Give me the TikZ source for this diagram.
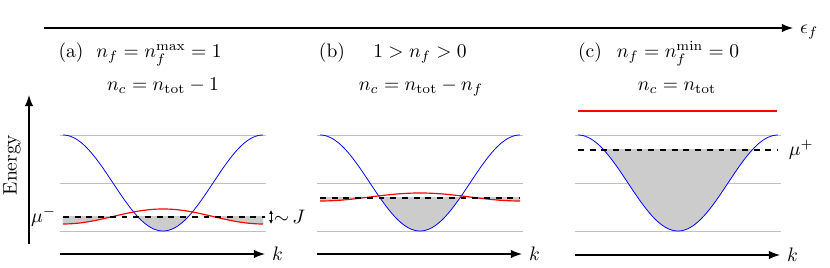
\documentclass[tikz,border=0pt]{standalone}
\usepackage{amsmath}
\usepackage{tikz}
\usetikzlibrary{arrows.meta, positioning, calc}

\begin{document}
\begin{tikzpicture}[
      x=0.018cm, y=0.018cm, >=Latex,
      axis/.style={->, semithick},
      cband/.style={blue, thin},
      fband/.style={red, semithick},
      level/.style={black!25, thin},
      chem/.style={dashed, semithick},
      occ/.style={fill=black!20},
      lab/.style={anchor=base, inner sep=0pt}
    ]
      \useasboundingbox (0,0) rectangle (830,268);

      % epsilon_f axis and energy axis
      \coordinate (ef0) at (44,240);
      \coordinate (ef1) at (793,240);
      \draw[axis] (ef0) -- (ef1) node[right, yshift=-2pt] (eflab) {$\epsilon_f$};
      \coordinate (en0) at (29,24);
      \coordinate (en1) at (29,173);
      \draw[axis] (en0) -- (en1);
      \node[rotate=90] (enlab) at (12,103) {Energy};

      % labels
      \node[lab] (labA) at (71,210)  {(a)};
      \node[lab] (nfA)  at (159,210) {$n_f = n_f^{\mathrm{max}} = 1$};
      \node[lab] (ncA)  at (163,177) {$n_c = n_{\mathrm{tot}} - 1$};
      \node[lab] (labB) at (332,210) {(b)};
      \node[lab] (nfB)  at (420,210) {$1 > n_f > 0$};
      \node[lab] (ncB)  at (421,177) {$n_c = n_{\mathrm{tot}} - n_f$};
      \node[lab] (labC) at (590,210) {(c)};
      \node[lab] (nfC)  at (678,210) {$n_f = n_f^{\mathrm{min}} = 0$};
      \node[lab] (ncC)  at (677,177) {$n_c = n_{\mathrm{tot}}$};

      % (a) f level filled
      \begin{scope}[shift={(63,0)}]
        \foreach \lev in {133,85,37}
          \draw[level] (-3,\lev) -- (203,\lev);
        \begin{scope}
          \clip (0,0) rectangle (200,51);
          \fill[occ] plot[domain=0:200, samples=80] (\x,{51.5-7.5*cos(1.8*\x)}) -- (200,140) -- (0,140) -- cycle;
          \fill[occ] plot[domain=0:200, samples=80] (\x,{85+48*cos(1.8*\x)}) -- (200,140) -- (0,140) -- cycle;
        \end{scope}
        \draw[cband] plot[domain=0:200, samples=80] (\x,{85+48*cos(1.8*\x)});
        \draw[fband] plot[domain=0:200, samples=80] (\x,{51.5-7.5*cos(1.8*\x)});
        \coordinate (muA0) at (0,51);
        \coordinate (muA1) at (202,51);
        \draw[chem] (muA0) -- (muA1);
        \node[left=0pt of muA0] (muAlab) {$\mu^-$};
        \coordinate (jtop) at (208,58);
        \coordinate (jbot) at (208,44);
        \draw[<->, >={Latex[length=2pt, width=2pt]}, thin] (jtop) -- (jbot);
        \node[right=-2pt of $(jtop)!0.5!(jbot)$] (jlab) {${\sim}\,J$};
        \coordinate (kA0) at (-3,14);
        \coordinate (kA1) at (202,14);
        \draw[axis] (kA0) -- (kA1) node[right] (kAlab) {$k$};
      \end{scope}

      % (b) partial filling
      \begin{scope}[shift={(320,0)}]
        \foreach \lev in {133,85,37}
          \draw[level] (-3,\lev) -- (203,\lev);
        \begin{scope}
          \clip (0,0) rectangle (200,70);
          \fill[occ] plot[domain=0:200, samples=80] (\x,{71-4*cos(1.8*\x)}) -- (200,140) -- (0,140) -- cycle;
          \fill[occ] plot[domain=0:200, samples=80] (\x,{85+48*cos(1.8*\x)}) -- (200,140) -- (0,140) -- cycle;
        \end{scope}
        \draw[cband] plot[domain=0:200, samples=80] (\x,{85+48*cos(1.8*\x)});
        \draw[fband] plot[domain=0:200, samples=80] (\x,{71-4*cos(1.8*\x)});
        \coordinate (muB0) at (0,70);
        \coordinate (muB1) at (200,70);
        \draw[chem] (muB0) -- (muB1);
        \coordinate (kB0) at (-3,14);
        \coordinate (kB1) at (202,14);
        \draw[axis] (kB0) -- (kB1) node[right] (kBlab) {$k$};
      \end{scope}

      % (c) f level empty
      \begin{scope}[shift={(578,0)}]
        \foreach \lev in {133,85,37}
          \draw[level] (-3,\lev) -- (203,\lev);
        \draw[fband] (0,157) -- (199,157);
        \begin{scope}
          \clip (0,0) rectangle (200,118);
          \fill[occ] plot[domain=0:200, samples=80] (\x,{85+48*cos(1.8*\x)}) -- (200,140) -- (0,140) -- cycle;
        \end{scope}
        \draw[cband] plot[domain=0:200, samples=80] (\x,{85+48*cos(1.8*\x)});
        \coordinate (muC0) at (0,118);
        \coordinate (muC1) at (200,118);
        \draw[chem] (muC0) -- (muC1);
        \node[right=2pt of muC1] (muClab) {$\mu^+$};
        \coordinate (kC0) at (-3,13);
        \coordinate (kC1) at (202,13);
        \draw[axis] (kC0) -- (kC1) node[right] (kClab) {$k$};
      \end{scope}
    \end{tikzpicture}
\end{document}
